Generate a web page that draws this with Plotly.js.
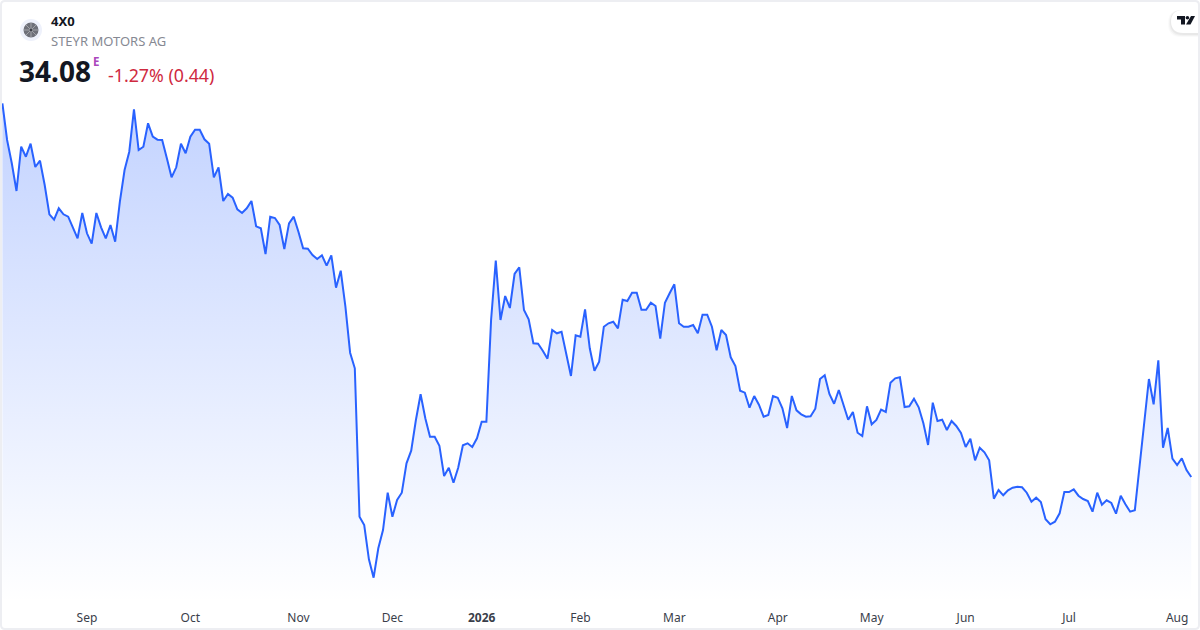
<!DOCTYPE html>
<html>
<head>
<meta charset="utf-8">
<script src="https://cdn.plot.ly/plotly-3.0.1.min.js"></script>
<style>
  html, body { margin: 0; padding: 0; background: #fff; }
  #chart { width: 1200px; height: 630px; }
</style>
</head>
<body>
<div id="chart"></div>
<script>
// Closing prices
const prices = [
  71.45,67.78,65.45,62.68,67.11,66.11,67.41,65.08,65.71,63.28,
  60.35,59.81,60.95,60.35,60.11,58.95,57.95,60.48,58.45,57.41,
  60.48,59.05,57.95,59.28,57.61,61.61,64.78,66.61,70.85,66.78,
  67.11,69.45,68.11,67.81,67.78,65.95,64.05,65.05,67.41,66.45,
  68.11,68.81,68.81,67.85,67.41,64.05,65.05,61.68,62.38,62.01,
  60.85,60.48,60.95,61.68,59.15,58.95,56.38,60.11,59.98,59.28,
  56.88,59.45,60.11,58.61,
  56.95,56.91,56.28,55.88,56.25,55.21,56.25,53.01,54.71,51.11,
  46.51,44.95,30.11,29.28,25.85,24.01,26.95,28.78,32.51,30.11,
  31.78,32.51,35.45,36.71,39.78,42.35,39.95,38.11,38.11,37.21,
  34.18,35.01,33.51,35.01,37.25,37.45,37.08,37.95,39.61,39.61,
  49.78,55.71,49.78,52.18,50.98,54.38,55.05,50.78,49.85,47.45,
  47.41,46.71,45.91,48.78,48.45,48.61,46.51,44.18,48.25,48.11,
  50.85,46.95,44.71,45.61,
  49.11,49.45,49.61,48.95,51.81,51.68,52.51,52.51,50.81,50.81,
  51.51,51.18,47.91,51.51,52.45,53.35,49.45,49.11,49.11,49.28,
  48.45,50.31,50.31,49.11,46.75,48.78,48.28,46.05,45.18,42.71,
  42.51,41.01,42.18,41.31,40.11,40.28,42.18,42.01,40.95,38.98,
  42.18,40.75,40.35,40.11,40.15,40.91,43.88,44.25,42.38,41.41,
  42.78,41.38,39.81,40.58,38.51,38.18,41.15,39.35,39.78,40.81,
  40.58,43.51,43.95,44.05,
  41.08,41.15,41.91,41.05,39.45,37.28,41.51,39.68,39.81,38.78,
  39.68,39.18,38.48,37.08,37.91,35.75,37.01,36.55,35.75,31.91,
  32.78,32.25,32.75,33.01,33.11,33.05,32.51,31.61,32.01,31.58,
  29.85,29.35,29.61,30.45,32.58,32.58,32.85,32.21,31.88,31.68,
  30.61,32.51,31.31,31.75,31.48,30.41,32.21,31.35,30.61,30.75,
  35.11,39.61,43.88,41.35,45.75,37.01,38.98,35.91,35.28,35.95,
  34.78,34.08
];
const tradingDays = prices.map((_, i) => i);

const monthTicks = [18, 40, 63, 83, 102, 123, 143, 165, 185, 205, 227, 250];
const monthLabels = ['Sep', 'Oct', 'Nov', 'Dec', '<b>2026</b>', 'Feb', 'Mar', 'Apr', 'May', 'Jun', 'Jul', 'Aug'];

const WIDTH = 1200;
const HEIGHT = 630;
const PLOT_H = 603;
const FONT = '"Noto Sans", "Open Sans", sans-serif';

// picture pixels to paper coordinates
const px = (x) => x / WIDTH;
const py = (y) => 1 - y / PLOT_H;

function label(text, x, y, size, color, extra) {
  return Object.assign({
    text: text,
    xref: 'paper', yref: 'paper',
    x: px(x), y: py(y),
    xanchor: 'left', yanchor: 'middle',
    showarrow: false,
    borderpad: 0,
    font: { family: FONT, size: size, color: color }
  }, extra || {});
}

function pathShape(d, fill, lineColor, lineWidth) {
  return {
    type: 'path', xref: 'paper', yref: 'paper', layer: 'above',
    path: d, fillcolor: fill,
    line: { color: lineColor || 'rgba(0,0,0,0)', width: lineWidth || 0 }
  };
}

function P(x, y) { return px(x) + ',' + py(y); }

function circle(cx, cy, r, fill) {
  return {
    type: 'circle', xref: 'paper', yref: 'paper', layer: 'above',
    x0: px(cx - r), x1: px(cx + r), y0: py(cy + r), y1: py(cy - r),
    fillcolor: fill, line: { width: 0 }
  };
}

function spoke(cx, cy, x, y) {
  return {
    type: 'line', xref: 'paper', yref: 'paper', layer: 'above',
    x0: px(cx), y0: py(cy), x1: px(x), y1: py(y),
    line: { color: 'rgba(255,255,255,0.45)', width: 0.8 }
  };
}

function pill(x0, y0, y1, r, fill) {
  // rounded on the left, runs off to the card edge on the right
  return pathShape(
    'M' + P(1198, y0) + ' L' + P(x0 + r, y0) +
    ' Q' + P(x0, y0) + ' ' + P(x0, y0 + r) +
    ' L' + P(x0, y1 - r) +
    ' Q' + P(x0, y1) + ' ' + P(x0 + r, y1) +
    ' L' + P(1198, y1) + ' Z', fill);
}

const trace = {
  x: tradingDays,
  y: prices,
  type: 'scatter',
  mode: 'lines',
  line: { color: '#2962FF', width: 2 },
  fill: 'tozeroy',
  fillgradient: {
    type: 'vertical',
    start: 71.45,
    stop: 21.5,
    colorscale: [[0, 'rgba(41,98,255,0.28)'], [1, 'rgba(41,98,255,0)']]
  },
  hoverinfo: 'skip'
};

const layout = {
  width: WIDTH,
  height: HEIGHT,
  margin: { l: 0, r: 0, t: 0, b: HEIGHT - PLOT_H },
  paper_bgcolor: '#ffffff',
  plot_bgcolor: '#ffffff',
  showlegend: false,
  xaxis: {
    range: [-0.51, 254.87],
    tickmode: 'array',
    tickvals: monthTicks,
    ticktext: monthLabels,
    ticks: '',
    ticklabelstandoff: 6,
    showgrid: false,
    zeroline: false,
    showline: false,
    tickfont: { family: FONT, size: 12, color: '#3a3e4a' }
  },
  yaxis: {
    range: [21.48, 81.78],
    showticklabels: false,
    ticks: '',
    showgrid: false,
    zeroline: false,
    showline: false
  },
  annotations: [
    label('<b>4X0</b>', 50, 21, 13, '#131722'),
    label('STEYR MOTORS AG', 50, 41, 13, '#868993'),
    label('<b>34.08</b>', 18, 71, 28, '#131722'),
    label('<b>E</b>', 92, 62, 11.5, '#AB47BC'),
    label('-1.27% (0.44)', 107, 75, 17.8, '#CF2A3F')
  ],
  shapes: [
    // card border
    pathShape('M' + P(5, 1) + ' L' + P(1195, 1) + ' Q' + P(1199, 1) + ' ' + P(1199, 5) +
      ' L' + P(1199, 625) + ' Q' + P(1199, 629) + ' ' + P(1195, 629) +
      ' L' + P(5, 629) + ' Q' + P(1, 629) + ' ' + P(1, 625) +
      ' L' + P(1, 5) + ' Q' + P(1, 1) + ' ' + P(5, 1) + ' Z', 'rgba(0,0,0,0)', '#EDEEF2', 2),
    // company logo
    circle(31, 30, 11, '#EEF1FB'),
    circle(31, 30, 7.5, '#6E7079'),
    spoke(31, 30, 31, 23), spoke(31, 30, 31, 37),
    spoke(31, 30, 24, 30), spoke(31, 30, 38, 30),
    spoke(31, 30, 26, 25), spoke(31, 30, 36, 35),
    spoke(31, 30, 36, 25), spoke(31, 30, 26, 35),
    circle(31, 30, 1.2, '#3B3D45'),
    // watermark pill with soft shadow
    pill(1168, 10, 37, 13, 'rgba(0,0,0,0.02)'),
    pill(1169, 10, 36, 13, 'rgba(0,0,0,0.03)'),
    pill(1170, 10, 35, 13, 'rgba(0,0,0,0.04)'),
    pill(1171, 10, 33, 12, '#FFFFFF'),
    // watermark mark
    pathShape('M' + P(1177, 16) + ' L' + P(1185, 16) + ' L' + P(1185, 24.5) + ' L' + P(1181, 24.5) +
      ' L' + P(1181, 19.5) + ' L' + P(1177, 19.5) + ' Z', '#131722'),
    circle(1187.4, 17.8, 1.8, '#131722'),
    pathShape('M' + P(1191, 16) + ' L' + P(1195, 16) + ' L' + P(1190.5, 24.5) + ' L' + P(1186, 24.5) + ' Z', '#131722')
  ]
};

Plotly.newPlot('chart', [trace], layout, { staticPlot: true, displayModeBar: false });
</script>
</body>
</html>
